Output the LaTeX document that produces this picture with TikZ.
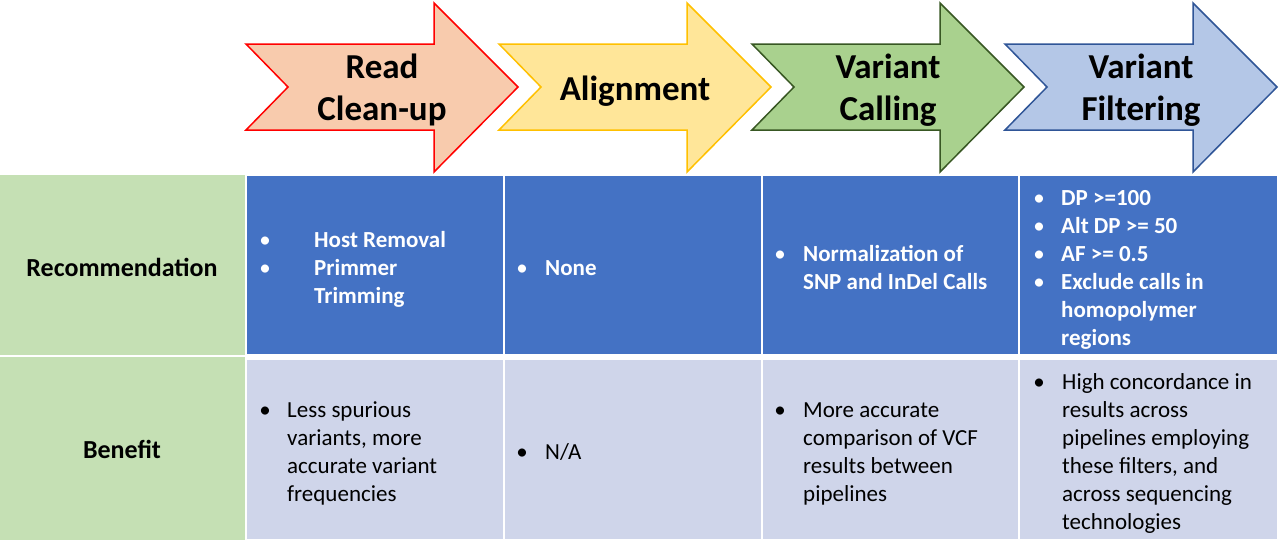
\documentclass[tikz,border=0pt]{standalone}
\usepackage{fontspec}
\setmainfont{Carlito}
\definecolor{cblue}{HTML}{4472C4}
\definecolor{clblue}{HTML}{CFD5EA}
\definecolor{cgreen}{HTML}{C5E0B4}
\definecolor{aonef}{HTML}{F8CBAD}\definecolor{aoned}{HTML}{FF0000}
\definecolor{atwof}{HTML}{FFE699}\definecolor{atwod}{HTML}{FFC000}
\definecolor{athreef}{HTML}{A9D18E}\definecolor{athreed}{HTML}{385723}
\definecolor{afourf}{HTML}{B4C7E7}\definecolor{afourd}{HTML}{2F5597}
\newcommand\StageArrow[3]{%
  \draw[arrowline, draw=#2, fill=#3] (#1,44) -- ({#1+188},44) -- ({#1+188},3) -- ({#1+272},87)
    -- ({#1+188},172) -- ({#1+188},130) -- (#1,130) -- ({#1+42},87) -- cycle;}
\begin{document}
\begin{tikzpicture}[x=1pt,y=-1pt,
  arrowline/.style={line width=1.5pt, line join=miter},
  atxt/.style={font=\bfseries\fontsize{35}{42}\selectfont, inner sep=0, anchor=base},
  lbl/.style={font=\bfseries\fontsize{26}{30}\selectfont, inner sep=0, anchor=base},
  wtxt/.style={font=\bfseries\fontsize{23}{28}\selectfont, text=white, inner sep=0, anchor=base west},
  dtxt/.style={font=\fontsize{23}{28}\selectfont, text=black, inner sep=0, anchor=base west},
  wbul/.style={font=\fontsize{23}{28}\selectfont, text=white, inner sep=0, anchor=base},
  dbul/.style={font=\fontsize{23}{28}\selectfont, text=black, inner sep=0, anchor=base}]
\useasboundingbox (0,0) rectangle (1280,542);
% table cells
\fill[cgreen] (0,175) rectangle (245,355);
\fill[cblue] (247,176) rectangle (503,354);
\fill[cblue] (505,176) rectangle (761,354);
\fill[cblue] (763,176) rectangle (1018,354);
\fill[cblue] (1020,176) rectangle (1277,354);
\fill[cgreen] (0,357) rectangle (245,540);
\fill[clblue] (247,360) rectangle (503,539);
\fill[clblue] (505,360) rectangle (761,539);
\fill[clblue] (763,360) rectangle (1018,539);
\fill[clblue] (1020,360) rectangle (1277,539);
% arrows
\StageArrow{246}{aoned}{aonef}
\StageArrow{499}{atwod}{atwof}
\StageArrow{752}{athreed}{athreef}
\StageArrow{1005}{afourd}{afourf}
\node[atxt] (a1l1) at (382,78) {Read};
\node[atxt] (a1l2) at (382,120) {Clean-up};
\node[atxt] (a2l1) at (635,100) {Alignment};
\node[atxt] (a3l1) at (888,78) {Variant};
\node[atxt] (a3l2) at (888,120) {Calling};
\node[atxt] (a4l1) at (1141,78) {Variant};
\node[atxt] (a4l2) at (1141,120) {Filtering};
% row labels
\node[lbl] (rec) at (122,276) {Recommendation};
\node[lbl] (ben) at (122,458) {Benefit};
% row 1
\node[wbul] (b11a) at (265,247) {•};
\node[wbul] (b11b) at (265,275) {•};
\foreach \t [count=\i] in {Host Removal, Primmer, Trimming}
  \node[wtxt] (r1c1l\i) at (314,{247+28*(\i-1)}) {\t};
\node[wbul] (b12) at (522,275) {•};
\node[wtxt] (r1c2l1) at (545,275) {None};
\node[wbul] (b13) at (780,261) {•};
\foreach \t [count=\i] in {Normalization of, SNP and InDel Calls}
  \node[wtxt] (r1c3l\i) at (803,{261+28*(\i-1)}) {\t};
\foreach \j in {0,1,2,3}
  \node[wbul] (b14\j) at (1039,{205+28*\j}) {•};
\foreach \t [count=\i] in {DP >=100, Alt DP >= 50, AF >= 0.5, Exclude calls in, homopolymer, regions}
  \node[wtxt] (r1c4l\i) at (1061,{205+28*(\i-1)}) {\t};
% row 2
\node[dbul] (b21) at (265,417) {•};
\foreach \t [count=\i] in {Less spurious, {variants, more}, accurate variant, frequencies}
  \node[dtxt] (r2c1l\i) at (287,{417+28*(\i-1)}) {\t};
\node[dbul] (b22) at (522,459) {•};
\node[dtxt] (r2c2l1) at (545,459) {N/A};
\node[dbul] (b23) at (780,417) {•};
\foreach \t [count=\i] in {More accurate, comparison of VCF, results between, pipelines}
  \node[dtxt] (r2c3l\i) at (803,{417+28*(\i-1)}) {\t};
\node[dbul] (b24) at (1039,389) {•};
\foreach \t [count=\i] in {High concordance in, results across, pipelines employing, {these filters, and}, across sequencing, technologies}
  \node[dtxt] (r2c4l\i) at (1062,{389+28*(\i-1)}) {\t};
\end{tikzpicture}
\end{document}
